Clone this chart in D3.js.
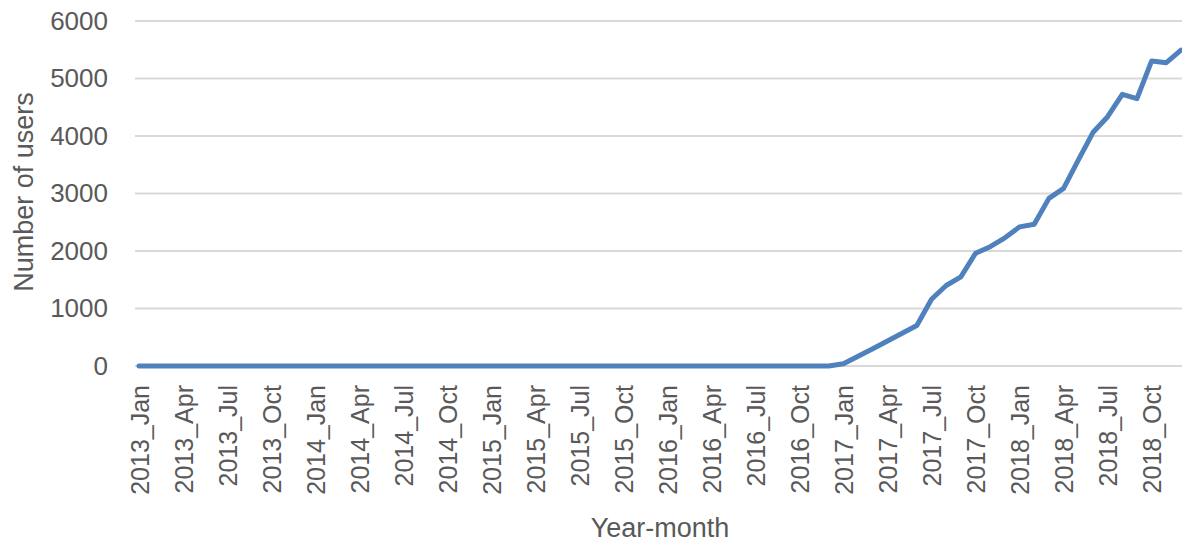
<!DOCTYPE html>
<html>
<head>
<meta charset="utf-8">
<script src="https://cdn.jsdelivr.net/npm/d3@7"></script>
<style>
  html, body { margin: 0; padding: 0; background: #ffffff; }
  svg { display: block; }
</style>
</head>
<body>
<svg id="chart" width="1182" height="546"></svg>
<script>
// ---- data ----
const years = [2013, 2014, 2015, 2016, 2017, 2018];
const monthNames = ["Jan","Feb","Mar","Apr","May","Jun","Jul","Aug","Sep","Oct","Nov","Dec"];
const categories = [];
years.forEach(y => monthNames.forEach(m => categories.push(y + "_" + m)));

const users = [
  // 2013
  0, 0, 0, 0, 0, 0, 0, 0, 0, 0, 0, 0,
  // 2014
  0, 0, 0, 0, 0, 0, 0, 0, 0, 0, 0, 0,
  // 2015
  0, 0, 0, 0, 0, 0, 0, 0, 0, 0, 0, 0,
  // 2016
  0, 0, 0, 0, 0, 0, 0, 0, 0, 0, 0, 0,
  // 2017
  40, 170, 300, 435, 570, 705, 1160, 1400, 1550, 1960, 2075, 2230,
  // 2018
  2420, 2465, 2915, 3090, 3580, 4060, 4335, 4725, 4650, 5305, 5275, 5495
];

const yTicks = [0, 1000, 2000, 3000, 4000, 5000, 6000];
const xTickLabels = categories.filter((c, i) => i % 3 === 0);

const yTitle = "Number of users";
const xTitle = "Year-month";

// ---- layout ----
const svg = d3.select("#chart");
const plotLeft = 135, plotRight = 1182;
const x = d3.scalePoint().domain(categories).range([139, 1181]);
const y = d3.scaleLinear().domain([0, 6000]).range([366, 21]);

const font = "'Liberation Sans', Arial, sans-serif";
const textColor = "#595959";

// gridlines
svg.append("g")
  .selectAll("line")
  .data(yTicks)
  .join("line")
  .attr("x1", plotLeft).attr("x2", plotRight)
  .attr("y1", d => y(d)).attr("y2", d => y(d))
  .attr("stroke", "#d9d9d9")
  .attr("stroke-width", 2);

// y axis labels
const yAxis = d3.axisLeft(y).tickValues(yTicks).tickSize(0).tickPadding(0).tickFormat(d3.format("d"));
const gy = svg.append("g").attr("transform", "translate(108,0)").call(yAxis);
gy.select(".domain").remove();
gy.selectAll("text")
  .attr("font-family", font)
  .attr("font-size", 26)
  .attr("fill", textColor);

// x axis labels
const xAxis = d3.axisBottom(x).tickValues(xTickLabels).tickSize(0).tickPadding(0);
const gx = svg.append("g").attr("transform", "translate(0,366)").call(xAxis);
gx.select(".domain").remove();
gx.selectAll("text")
  .attr("font-family", font)
  .attr("font-size", 25)
  .attr("fill", textColor)
  .attr("text-anchor", "end")
  .attr("transform", "rotate(-90)")
  .attr("x", -19)
  .attr("y", 0)
  .attr("dy", "0.36em");

// line
const line = d3.line()
  .x((d, i) => x(categories[i]))
  .y(d => y(d));

svg.append("path")
  .datum(users)
  .attr("d", line)
  .attr("fill", "none")
  .attr("stroke", "#4f81bd")
  .attr("stroke-width", 5)
  .attr("stroke-linejoin", "round")
  .attr("stroke-linecap", "round");

// axis titles
svg.append("text")
  .attr("transform", "translate(33,192) rotate(-90)")
  .attr("text-anchor", "middle")
  .attr("font-family", font)
  .attr("font-size", 27)
  .attr("fill", textColor)
  .text(yTitle);

svg.append("text")
  .attr("x", 660)
  .attr("y", 537)
  .attr("text-anchor", "middle")
  .attr("font-family", font)
  .attr("font-size", 27)
  .attr("fill", textColor)
  .text(xTitle);
</script>
</body>
</html>
